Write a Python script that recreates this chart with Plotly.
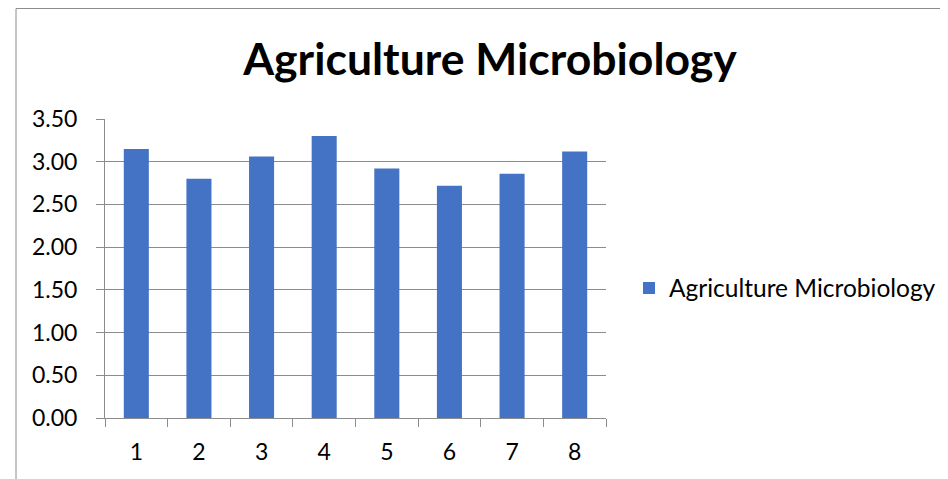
import plotly.graph_objects as go

categories = ["1", "2", "3", "4", "5", "6", "7", "8"]
values = [3.15, 2.80, 3.06, 3.30, 2.92, 2.72, 2.86, 3.12]
series_name = "Agriculture Microbiology"
y_ticks = [0, 0.5, 1.0, 1.5, 2.0, 2.5, 3.0, 3.5]
y_tick_labels = ["0.00", "0.50", "1.00", "1.50", "2.00", "2.50", "3.00", "3.50"]

FONT = "Lato, Open Sans, sans-serif"
GRID = "#8c8c8c"

# page body has an 8px margin: work in figure coordinates (screen - 8)
OFF = 8
W, H = 948 - OFF, 479 - OFF
L, R, T, B = 105 - OFF, 606 - OFF, 119 - OFF, 418 - OFF

fig = go.Figure()
fig.add_trace(go.Bar(
    x=categories, y=values, name=series_name,
    marker=dict(color="#4472C4", line=dict(width=0)),
    width=0.4, showlegend=True,
))

fig.update_layout(
    width=W, height=H,
    margin=dict(l=L, r=W - R, t=T, b=H - B, pad=0, autoexpand=False),
    paper_bgcolor="white", plot_bgcolor="white",
    font=dict(family=FONT, color="#000000", size=22),
    title=dict(text="<b>Agriculture Microbiology</b>", x=(490 - OFF) / W, xanchor="center",
               y=1 - (59 - OFF) / H, yanchor="middle",
               font=dict(family=FONT, size=44.5, color="#000000")),
    showlegend=True,
    legend=dict(x=(629 - OFF - L) / (R - L), y=(B - (288 - OFF)) / (B - T),
                xanchor="left", yanchor="middle",
                font=dict(family=FONT, size=24.5, color="#000000"),
                itemwidth=30, bgcolor="rgba(0,0,0,0)"),
)
fig.update_xaxes(
    type="category", showgrid=False, showline=True, linecolor=GRID, linewidth=1,
    ticks="outside", tickson="boundaries", ticklen=8, tickcolor=GRID,
    tickfont=dict(family=FONT, size=23, color="#000000"),
    ticklabelstandoff=13, zeroline=False,
)
fig.update_yaxes(
    range=[0, 3.5], tickvals=y_ticks, ticktext=y_tick_labels,
    showgrid=True, gridcolor=GRID, gridwidth=1,
    showline=True, linecolor=GRID, linewidth=1,
    ticks="outside", ticklen=8, tickcolor=GRID,
    tickfont=dict(family=FONT, size=23, color="#000000"),
    ticklabelstandoff=14, zeroline=False,
)
# chart frame border
fig.add_shape(type="rect", xref="paper", yref="paper",
              x0=(16 - OFF - L) / (R - L), x1=(W + 20 - L) / (R - L),
              y0=(B - (H + 20)) / (B - T), y1=(B - 0.5) / (B - T),
              line=dict(color="#8c8c8c", width=1), fillcolor="rgba(0,0,0,0)", layer="below")

fig.write_html("out.html")
